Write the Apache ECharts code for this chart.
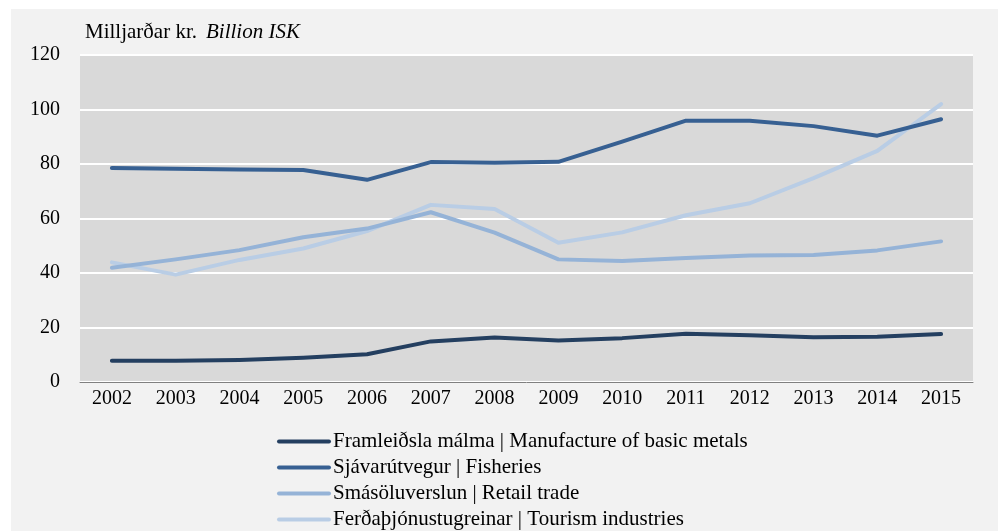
<!DOCTYPE html>
<html>
<head>
<meta charset="utf-8">
<script src="https://cdn.jsdelivr.net/npm/echarts@6/dist/echarts.min.js"></script>
<style>
  html, body { margin: 0; padding: 0; background: #ffffff; }
  #main { position: absolute; left: 11px; top: 9px; width: 987px; height: 522px; background: #f2f2f2; }
</style>
</head>
<body>
<div id="main"></div>
<script>
// ár / years
var years = ['2002','2003','2004','2005','2006','2007','2008','2009','2010','2011','2012','2013','2014','2015'];

// milljarðar kr.
var metals    = [7.8, 7.8, 8.1, 8.9, 10.2, 14.9, 16.3, 15.2, 16.1, 17.7, 17.2, 16.4, 16.6, 17.6];
var fisheries = [78.5, 78.3, 78.0, 77.8, 74.2, 80.7, 80.5, 80.8, 88.2, 95.9, 95.9, 93.9, 90.4, 96.4];
var retail    = [41.9, 45.0, 48.4, 53.1, 56.3, 62.3, 54.8, 45.0, 44.4, 45.5, 46.4, 46.6, 48.3, 51.6];
var tourism   = [43.9, 39.4, 44.8, 49.0, 55.4, 65.0, 63.5, 51.1, 54.9, 61.2, 65.6, 74.8, 84.8, 102.0];

var names = [
    'Framleiðsla málma | Manufacture of basic metals',
    'Sjávarútvegur | Fisheries',
    'Smásöluverslun | Retail trade',
    'Ferðaþjónustugreinar | Tourism industries'
];
var colors = ['#243f60', '#376092', '#95b3d7', '#b9cde5'];

var chart = echarts.init(document.getElementById('main'));

function makeLine(i, data) {
    return {
        name: names[i],
        type: 'line',
        data: data,
        symbol: 'none',
        z: 10 - i,
        lineStyle: { color: colors[i], width: 4, cap: 'round', join: 'round' },
        itemStyle: { color: colors[i] }
    };
}

var font = '"Liberation Serif", "Times New Roman", serif';

var option = {
    animation: false,
    textStyle: { fontFamily: font },
    title: {
        text: '{a|Milljarðar kr.}  {b|Billion ISK}',
        left: 74,
        top: 13,
        padding: 0,
        textStyle: {
            fontWeight: 'normal',
            rich: {
                a: { fontFamily: font, fontSize: 21, color: '#000', fontWeight: 'normal' },
                b: { fontFamily: font, fontSize: 21, color: '#000', fontWeight: 'normal', fontStyle: 'italic' }
            }
        }
    },
    legend: {
        orient: 'vertical',
        left: 266,
        top: 422,
        padding: 0,
        height: 160,
        // kassi með rúnuðum endum í stað línu með hring
        icon: 'path://M2,0 H52 A2,2 0 0 1 52,4 H2 A2,2 0 0 1 2,0 Z',
        itemWidth: 54,
        itemHeight: 4,
        itemGap: 5,
        textStyle: { fontFamily: font, fontSize: 21, color: '#000', padding: [0, 0, 0, -3] },
        data: names
    },
    grid: {
        left: 69,
        right: 25,
        top: 46,
        bottom: 149,
        show: true,
        backgroundColor: '#d9d9d9',
        borderWidth: 0
    },
    xAxis: {
        type: 'category',
        data: years,
        boundaryGap: true,
        axisLine: { lineStyle: { color: '#808080', width: 1 } },
        axisTick: { show: false },
        axisLabel: { color: '#000', fontSize: 20, fontFamily: font, margin: 7 }
    },
    yAxis: {
        type: 'value',
        min: 0,
        max: 120,
        interval: 20,
        axisLine: { show: false },
        axisTick: { show: false },
        splitLine: { lineStyle: { color: '#ffffff', width: 2 } },
        axisLabel: { color: '#000', fontSize: 20, fontFamily: font, margin: 20 }
    },
    series: [
        makeLine(0, metals),
        makeLine(1, fisheries),
        makeLine(2, retail),
        makeLine(3, tourism)
    ]
};

chart.setOption(option);
</script>
</body>
</html>
